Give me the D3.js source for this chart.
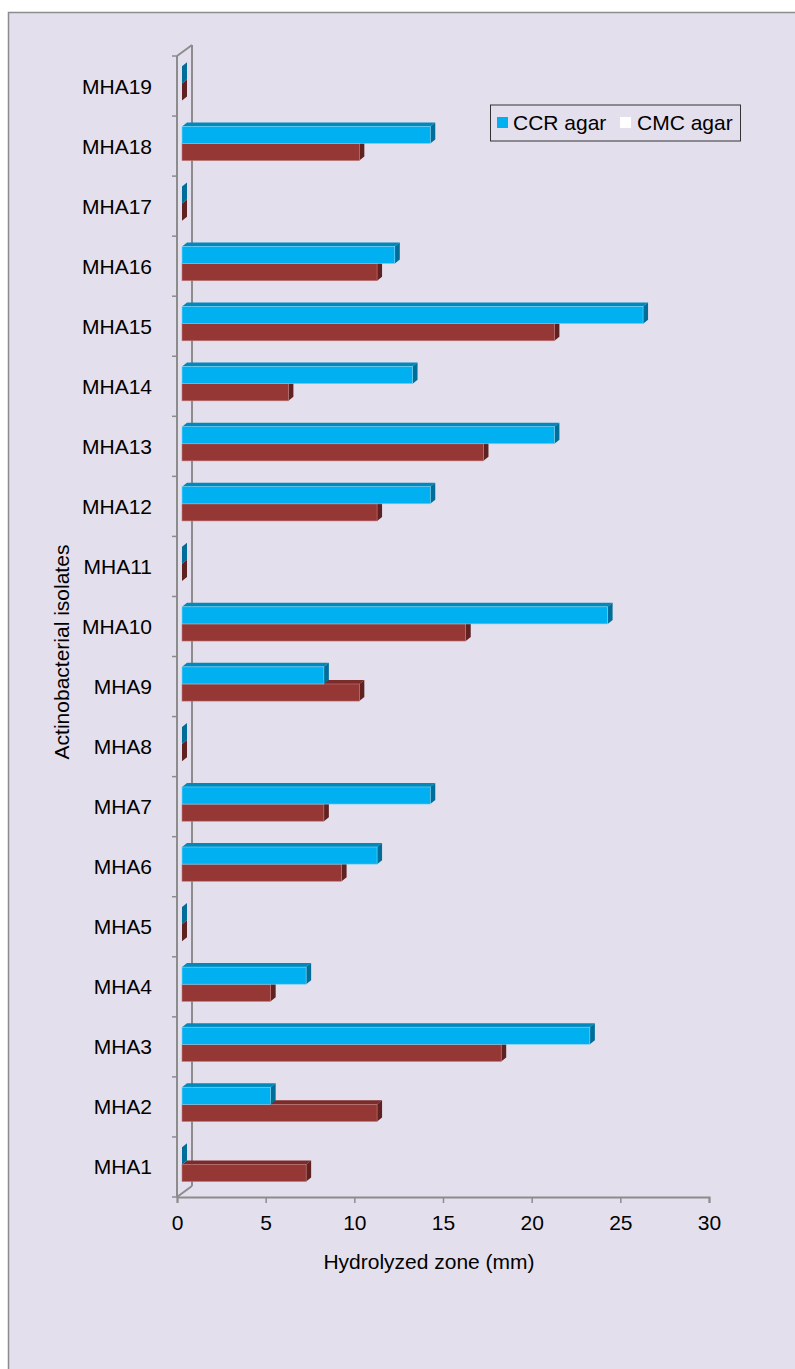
<!DOCTYPE html>
<html>
<head>
<meta charset="utf-8">
<script src="https://cdn.jsdelivr.net/npm/d3@7"></script>
<style>
  html, body { margin: 0; padding: 0; background: #ffffff; }
  svg { display: block; }
  text { font-family: "Liberation Sans", Arial, Helvetica, sans-serif; fill: #000; }
</style>
</head>
<body>
<svg id="chart" width="795" height="1369"></svg>
<script>
// Hydrolysis zones of actinobacterial isolates on two agar media
const categories = ["MHA1", "MHA2", "MHA3", "MHA4", "MHA5", "MHA6", "MHA7", "MHA8", "MHA9", "MHA10",
                    "MHA11", "MHA12", "MHA13", "MHA14", "MHA15", "MHA16", "MHA17", "MHA18", "MHA19"];
const ccrValues = [0, 5, 23, 7, 0, 11, 14, 0, 8, 24, 0, 14, 21, 13, 26, 12, 0, 14, 0];
const cmcValues = [7, 11, 18, 5, 0, 9, 8, 0, 10, 16, 0, 11, 17, 6, 21, 11, 0, 10, 0];
const xTicks = [0, 5, 10, 15, 20, 25, 30];
const seriesNames = ["CCR agar", "CMC agar"];

(function () {
  const svg = d3.select("#chart");
  const W = 795, H = 1369;
  const fontSize = 21;

  // panel
  svg.append("rect").attr("x", 0).attr("y", 0).attr("width", W).attr("height", H).attr("fill", "#ffffff");
  svg.append("rect")
    .attr("x", 8.5).attr("y", 12.5).attr("width", W + 20).attr("height", H + 20)
    .attr("fill", "#e4dfec").attr("stroke", "#8c8c8c").attr("stroke-width", 1.5);

  // plot frame (front axes plane) and 3D depth
  const plotLeft = 177, plotRight = 709, plotTop = 56, plotBottom = 1197;
  const depthX = 15, depthY = -11;       // depth of the wall
  const barDX = 5, barDY = -4;           // depth of each bar
  const barOffX = 5;                      // bars sit one third into the depth

  const x = d3.scaleLinear().domain([0, 30]).range([plotLeft, plotRight]);
  const y = d3.scaleBand().domain(categories.slice().reverse()).range([plotTop, plotBottom]);
  const bw = y.bandwidth();

  const axisColor = "#8c8c8c";

  // back wall edge and floor/top diagonals
  const g = svg.append("g");
  g.append("line").attr("x1", plotLeft + depthX).attr("x2", plotLeft + depthX)
    .attr("y1", plotTop + depthY).attr("y2", plotBottom + depthY)
    .attr("stroke", axisColor).attr("stroke-width", 2);
  g.append("line").attr("x1", plotLeft).attr("y1", plotTop).attr("x2", plotLeft + depthX).attr("y2", plotTop + depthY)
    .attr("stroke", axisColor).attr("stroke-width", 2);
  g.append("line").attr("x1", plotLeft).attr("y1", plotBottom).attr("x2", plotLeft + depthX).attr("y2", plotBottom + depthY)
    .attr("stroke", axisColor).attr("stroke-width", 2);

  // bars: CMC drawn first so the CCR front face covers its top face
  const series = [
    { name: seriesNames[1], values: cmcValues, slot: 1, front: "#953735", topC: "#7b2c2a", side: "#5f2220", edge: "#c07a78" },
    { name: seriesNames[0], values: ccrValues, slot: 0, front: "#00b0f0", topC: "#0089bd", side: "#006e98", edge: "#7fd6f5" }
  ];
  const barH = bw * 0.285;
  const barTop0 = bw * 0.172;
  const x0 = x(0) + barOffX;

  const barsG = svg.append("g");
  series.forEach(s => {
    categories.forEach((c, i) => {
      const v = s.values[i];
      const yt = y(c) + barTop0 + s.slot * barH;
      const x1 = x(v) + barOffX;
      const gg = barsG.append("g");
      if (v > 0) {
        gg.append("polygon")
          .attr("points", [[x0, yt], [x0 + barDX, yt + barDY], [x1 + barDX, yt + barDY], [x1, yt]].join(" "))
          .attr("fill", s.topC);
      }
      gg.append("polygon")
        .attr("points", [[x1, yt], [x1 + barDX, yt + barDY], [x1 + barDX, yt + barH + barDY], [x1, yt + barH]].join(" "))
        .attr("fill", s.side);
      if (v > 0) {
        gg.append("rect").attr("x", x0).attr("y", yt).attr("width", x1 - x0).attr("height", barH)
          .attr("fill", s.front).attr("stroke", s.edge).attr("stroke-width", 0.6);
      }
    });
  });

  // front vertical axis with category ticks
  const yAxisG = svg.append("g");
  yAxisG.append("line").attr("x1", plotLeft).attr("x2", plotLeft).attr("y1", plotTop).attr("y2", plotBottom)
    .attr("stroke", axisColor).attr("stroke-width", 2);
  const boundaries = categories.map(c => y(c)).concat([plotBottom]);
  yAxisG.selectAll("line.tick").data(boundaries).join("line").attr("class", "tick")
    .attr("x1", plotLeft - 5).attr("x2", plotLeft).attr("y1", d => d).attr("y2", d => d)
    .attr("stroke", axisColor).attr("stroke-width", 1.5);
  yAxisG.selectAll("text.cat").data(categories).join("text").attr("class", "cat")
    .attr("x", 152).attr("y", d => y(d) + bw / 2 + 7.5)
    .attr("text-anchor", "end").attr("font-size", fontSize)
    .text(d => d);

  // bottom axis
  const xAxisG = svg.append("g").attr("transform", `translate(0,${plotBottom})`)
    .call(d3.axisBottom(x).tickValues(xTicks).tickSize(6).tickPadding(12).tickFormat(d3.format("d")));
  xAxisG.select(".domain").attr("stroke", axisColor).attr("stroke-width", 2);
  xAxisG.selectAll(".tick line").attr("stroke", axisColor).attr("stroke-width", 1.5);
  xAxisG.selectAll(".tick text").attr("font-size", fontSize).attr("fill", "#000")
    .attr("font-family", "Liberation Sans, Arial, sans-serif");

  // axis titles
  svg.append("text").attr("x", 429).attr("y", 1269).attr("text-anchor", "middle")
    .attr("font-size", fontSize).text("Hydrolyzed zone (mm)");
  svg.append("text").attr("transform", "translate(69,652) rotate(-90)").attr("text-anchor", "middle")
    .attr("font-size", fontSize).text("Actinobacterial isolates");

  // legend
  const lg = svg.append("g");
  lg.append("rect").attr("x", 490.5).attr("y", 105).attr("width", 250).attr("height", 36)
    .attr("fill", "none").attr("stroke", "#333").attr("stroke-width", 1);
  const legendItems = [
    { name: seriesNames[0], color: "#00b0f0", sx: 497, tx: 513 },
    { name: seriesNames[1], color: "#ffffff", sx: 620, tx: 637 }
  ];
  legendItems.forEach(d => {
    lg.append("rect").attr("x", d.sx).attr("y", 117).attr("width", 11).attr("height", 11).attr("fill", d.color);
    lg.append("text").attr("x", d.tx).attr("y", 130).attr("font-size", fontSize).text(d.name);
  });
})();
</script>
</body>
</html>
